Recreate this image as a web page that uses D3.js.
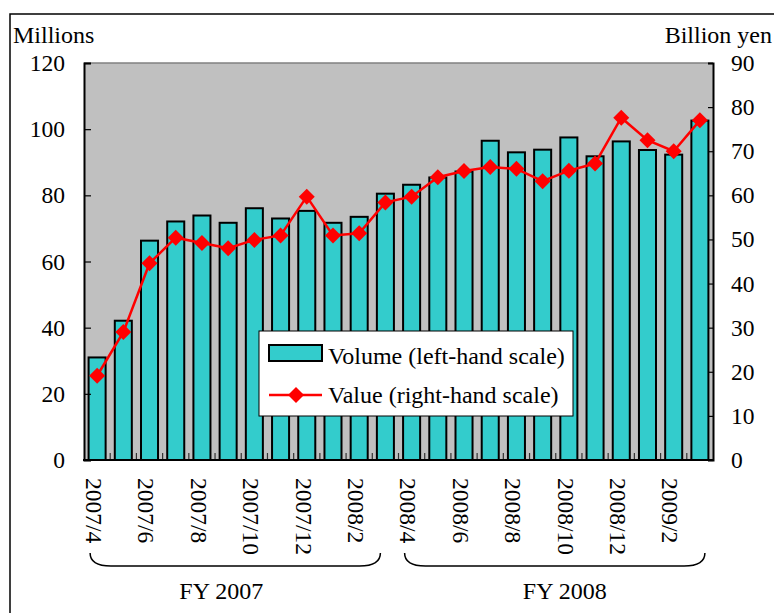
<!DOCTYPE html>
<html>
<head>
<meta charset="utf-8">
<script src="https://cdn.jsdelivr.net/npm/d3@7"></script>
<style>
    body { margin: 0; background: #fff; }
    svg text { font-family: "Liberation Serif", "Times New Roman", serif; fill: #000; }
</style>
</head>
<body>
<div id="chart"></div>
<script>
var months = ["2007/4", "2007/5", "2007/6", "2007/7", "2007/8", "2007/9", "2007/10", "2007/11",
    "2007/12", "2008/1", "2008/2", "2008/3", "2008/4", "2008/5", "2008/6", "2008/7", "2008/8",
    "2008/9", "2008/10", "2008/11", "2008/12", "2009/1", "2009/2", "2009/3"];

// volume, millions (left-hand scale)
var volume = [31.0, 42.1, 66.3, 72.1, 73.9, 71.7, 76.1, 73.0, 75.3, 71.7, 73.5, 80.5,
    83.2, 85.4, 87.2, 96.5, 93.0, 93.8, 97.5, 91.8, 96.3, 93.7, 92.3, 102.6];

// value, billion yen (right-hand scale)
var value = [19.1, 29.0, 44.6, 50.4, 49.2, 48.0, 49.9, 50.9, 59.7, 50.9, 51.4, 58.4,
    59.7, 64.1, 65.5, 66.4, 66.0, 63.2, 65.6, 67.2, 77.6, 72.5, 70.0, 77.0];

var leftTicks = [0, 20, 40, 60, 80, 100, 120];
var rightTicks = [0, 10, 20, 30, 40, 50, 60, 70, 80, 90];
var fiscalYears = [
    { label: "FY 2007", first: "2007/4", last: "2008/3" },
    { label: "FY 2008", first: "2008/4", last: "2009/3" }
];
var legendItems = ["Volume (left-hand scale)", "Value (right-hand scale)"];

var W = 774, H = 613;
var plot = { left: 84, right: 713, top: 63, bottom: 460 };

var svg = d3.select("#chart").append("svg")
    .attr("width", W)
    .attr("height", H);

// outer frame (runs off the picture on the right and bottom)
svg.append("rect")
    .attr("x", 10).attr("y", 14)
    .attr("width", 820).attr("height", 700)
    .attr("fill", "none")
    .attr("stroke", "#000")
    .attr("stroke-width", 1.5);

var x = d3.scaleBand()
    .domain(months)
    .range([plot.left, plot.right])
    .paddingInner(0.35)
    .paddingOuter(0.175);

var yL = d3.scaleLinear().domain([0, 120]).range([plot.bottom, plot.top]);
var yR = d3.scaleLinear().domain([0, 90]).range([plot.bottom, plot.top]);

function cx(m) { return x(m) + x.bandwidth() / 2; }

// plot background
svg.append("rect")
    .attr("x", plot.left).attr("y", plot.top)
    .attr("width", plot.right - plot.left)
    .attr("height", plot.bottom - plot.top)
    .attr("fill", "#c0c0c0");

svg.append("line")
    .attr("x1", plot.left).attr("x2", plot.right)
    .attr("y1", plot.top).attr("y2", plot.top)
    .attr("stroke", "#808080")
    .attr("stroke-width", 1.5);

// bars
svg.selectAll(".bar")
    .data(volume)
    .enter()
    .append("rect")
    .attr("class", "bar")
    .attr("x", function (d, i) { return x(months[i]); })
    .attr("y", function (d) { return yL(d); })
    .attr("width", x.bandwidth())
    .attr("height", function (d) { return yL(0) - yL(d); })
    .attr("fill", "#33cccc")
    .attr("stroke", "#000")
    .attr("stroke-width", 2);

// category boundary ticks on the bottom axis
var half = (x.step() - x.bandwidth()) / 2;
svg.selectAll(".xtick")
    .data(months.slice(1))
    .enter()
    .append("line")
    .attr("class", "xtick")
    .attr("x1", function (d) { return x(d) - half; })
    .attr("x2", function (d) { return x(d) - half; })
    .attr("y1", plot.bottom)
    .attr("y2", plot.bottom - 7)
    .attr("stroke", "#333")
    .attr("stroke-width", 1.2);

// axes
var axisL = svg.append("g")
    .attr("transform", "translate(" + plot.left + ",0)")
    .call(d3.axisLeft(yL).tickValues(leftTicks).tickSize(-7).tickPadding(19));

var axisR = svg.append("g")
    .attr("transform", "translate(" + plot.right + ",0)")
    .call(d3.axisRight(yR).tickValues(rightTicks).tickSize(-5).tickPadding(18));

[axisL, axisR].forEach(function (a) {
    a.attr("font-family", null);
    a.select(".domain").attr("stroke", "#000").attr("stroke-width", 2);
    a.selectAll(".tick line").attr("stroke", "#000").attr("stroke-width", 1.2);
    a.selectAll(".tick text")
        .style("font-size", "23.5px")
        .attr("fill", "#000");
});

svg.append("line")
    .attr("x1", plot.left - 1).attr("x2", plot.right + 1)
    .attr("y1", plot.bottom).attr("y2", plot.bottom)
    .attr("stroke", "#000")
    .attr("stroke-width", 2);

// value line + diamonds
var line = d3.line()
    .x(function (d, i) { return cx(months[i]); })
    .y(function (d) { return yR(d); });

svg.append("path")
    .datum(value)
    .attr("d", line)
    .attr("fill", "none")
    .attr("stroke", "#ff0000")
    .attr("stroke-width", 2.5);

var diamond = "M0,-8L8,0L0,8L-8,0Z";
svg.selectAll(".pt")
    .data(value)
    .enter()
    .append("path")
    .attr("class", "pt")
    .attr("d", diamond)
    .attr("transform", function (d, i) {
        return "translate(" + cx(months[i]) + "," + yR(d) + ")";
    })
    .attr("fill", "#ff0000");

// axis titles
svg.append("text")
    .attr("x", 13).attr("y", 43)
    .style("font-size", "24px")
    .text("Millions");

svg.append("text")
    .attr("x", 772).attr("y", 43)
    .attr("text-anchor", "end")
    .style("font-size", "24px")
    .text("Billion yen");

// month labels, every other month, rotated
svg.selectAll(".mlabel")
    .data(months.filter(function (d, i) { return i % 2 === 0; }))
    .enter()
    .append("text")
    .attr("class", "mlabel")
    .attr("transform", function (d) {
        return "translate(" + (cx(d) - 3) + ",478) rotate(90)";
    })
    .attr("dy", "0.35em")
    .style("font-size", "23.5px")
    .text(function (d) { return d; });

// fiscal year braces
var fyShift = [-14, 10];
fiscalYears.forEach(function (fy, k) {
    var x0 = cx(fy.first) - 7;
    var x1 = k === 0 ? cx(fy.last) - 5 : cx(fy.last) + 5;
    var yTop = 553, yBot = 566, r = 13;
    svg.append("path")
        .attr("d", "M" + x0 + "," + yTop +
            " Q" + x0 + "," + yBot + " " + (x0 + r * 1.6) + "," + yBot +
            " L" + (x1 - r * 1.6) + "," + yBot +
            " Q" + x1 + "," + yBot + " " + x1 + "," + yTop)
        .attr("fill", "none")
        .attr("stroke", "#000")
        .attr("stroke-width", 1.5);

    svg.append("text")
        .attr("x", (x0 + x1) / 2 + fyShift[k])
        .attr("y", 599)
        .attr("text-anchor", "middle")
        .style("font-size", "24px")
        .text(fy.label);
});

// legend
var legend = svg.append("g").attr("transform", "translate(259,331)");

legend.append("rect")
    .attr("width", 314).attr("height", 85)
    .attr("fill", "#fff")
    .attr("stroke", "#000")
    .attr("stroke-width", 1);

legend.append("rect")
    .attr("x", 10).attr("y", 14)
    .attr("width", 53).attr("height", 16)
    .attr("fill", "#33cccc")
    .attr("stroke", "#000")
    .attr("stroke-width", 2);

legend.append("line")
    .attr("x1", 10).attr("x2", 63)
    .attr("y1", 64).attr("y2", 64)
    .attr("stroke", "#ff0000")
    .attr("stroke-width", 2.5);

legend.append("path")
    .attr("d", diamond)
    .attr("transform", "translate(37,64)")
    .attr("fill", "#ff0000");

legend.selectAll(".ltext")
    .data(legendItems)
    .enter()
    .append("text")
    .attr("class", "ltext")
    .attr("x", 69)
    .attr("y", function (d, i) { return 33 + i * 39; })
    .style("font-size", "24px")
    .text(function (d) { return d; });
</script>
</body>
</html>
